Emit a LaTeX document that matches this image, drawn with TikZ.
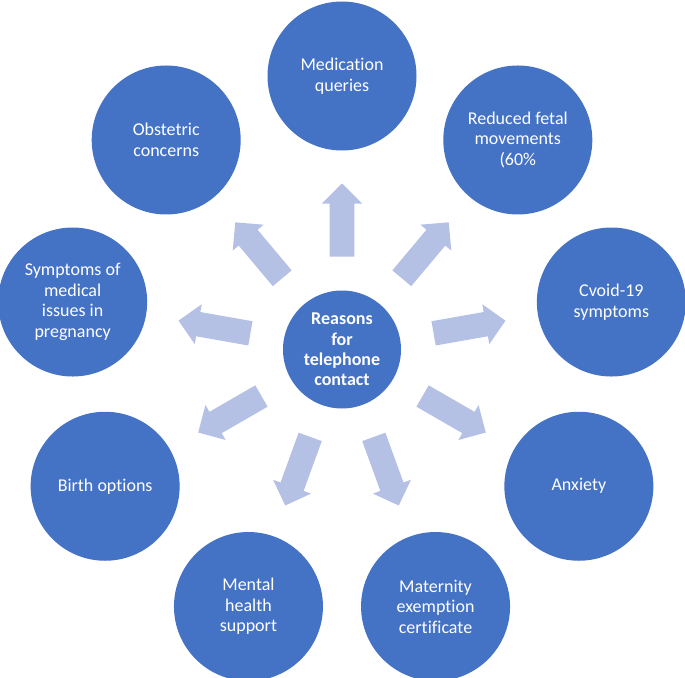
\documentclass[tikz,border=0pt]{standalone}
\usepackage{fontspec}
\setmainfont{Carlito}[Ligatures=NoCommon]
\usetikzlibrary{calc}
\definecolor{circblue}{HTML}{4472C4}
\definecolor{arrblue}{HTML}{B4C0E4}
\begin{document}
\begin{tikzpicture}[x=1pt,y=1pt,
  outer/.style={circle,fill=circblue,draw=none,minimum size=149pt,inner sep=0pt,
    text=white,align=center,font=\fontsize{18}{20.5}\selectfont},
  inner/.style={circle,fill=circblue,draw=none,minimum size=118pt,inner sep=0pt,
    text=white,align=center,font=\fontsize{18}{20.2}\selectfont\bfseries},
  blockarrow/.style={fill=arrblue,draw=none}]
\useasboundingbox (0,-677) rectangle (685,0);
\coordinate (C) at (342,-349.5);
\node[inner] (center) at (C) {Reasons\\for\\telephone\\contact};
\node[outer] (med) at ($(C)+(90:273.5)$) {Medication\\queries};
\node[outer] (rfm) at ($(C)+(50:273.5)$) {Reduced fetal\\movements\\(60\%};
\node[outer] (cov) at ($(C)+(10:273.5)$) {Cvoid-19\\symptoms};
\node[outer] (anx) at ($(C)+(-30:273.5)$) {Anxiety};
\node[outer] (mat) at ($(C)+(-70:273.5)$) {Maternity\\exemption\\certificate};
\node[outer] (men) at ($(C)+(-110:273.5)$) {Mental\\health\\support};
\node[outer] (bir) at ($(C)+(-150:273.5)$) {Birth options};
\node[outer] (sym) at ($(C)+(170:273.5)$) {Symptoms of\\medical\\issues in\\pregnancy};
\node[outer] (obs) at ($(C)+(130:273.5)$) {Obstetric\\concerns};
\foreach \a in {90,50,10,-30,-70,-110,-150,170,130}{
  \begin{scope}[shift={(C)},rotate=\a]
    \fill[blockarrow] (93,-12.3) -- (146,-12.3) -- (146,-20.2) -- (166,0)
      -- (146,20.2) -- (146,12.3) -- (93,12.3) -- cycle;
  \end{scope}
}
\end{tikzpicture}
\end{document}
